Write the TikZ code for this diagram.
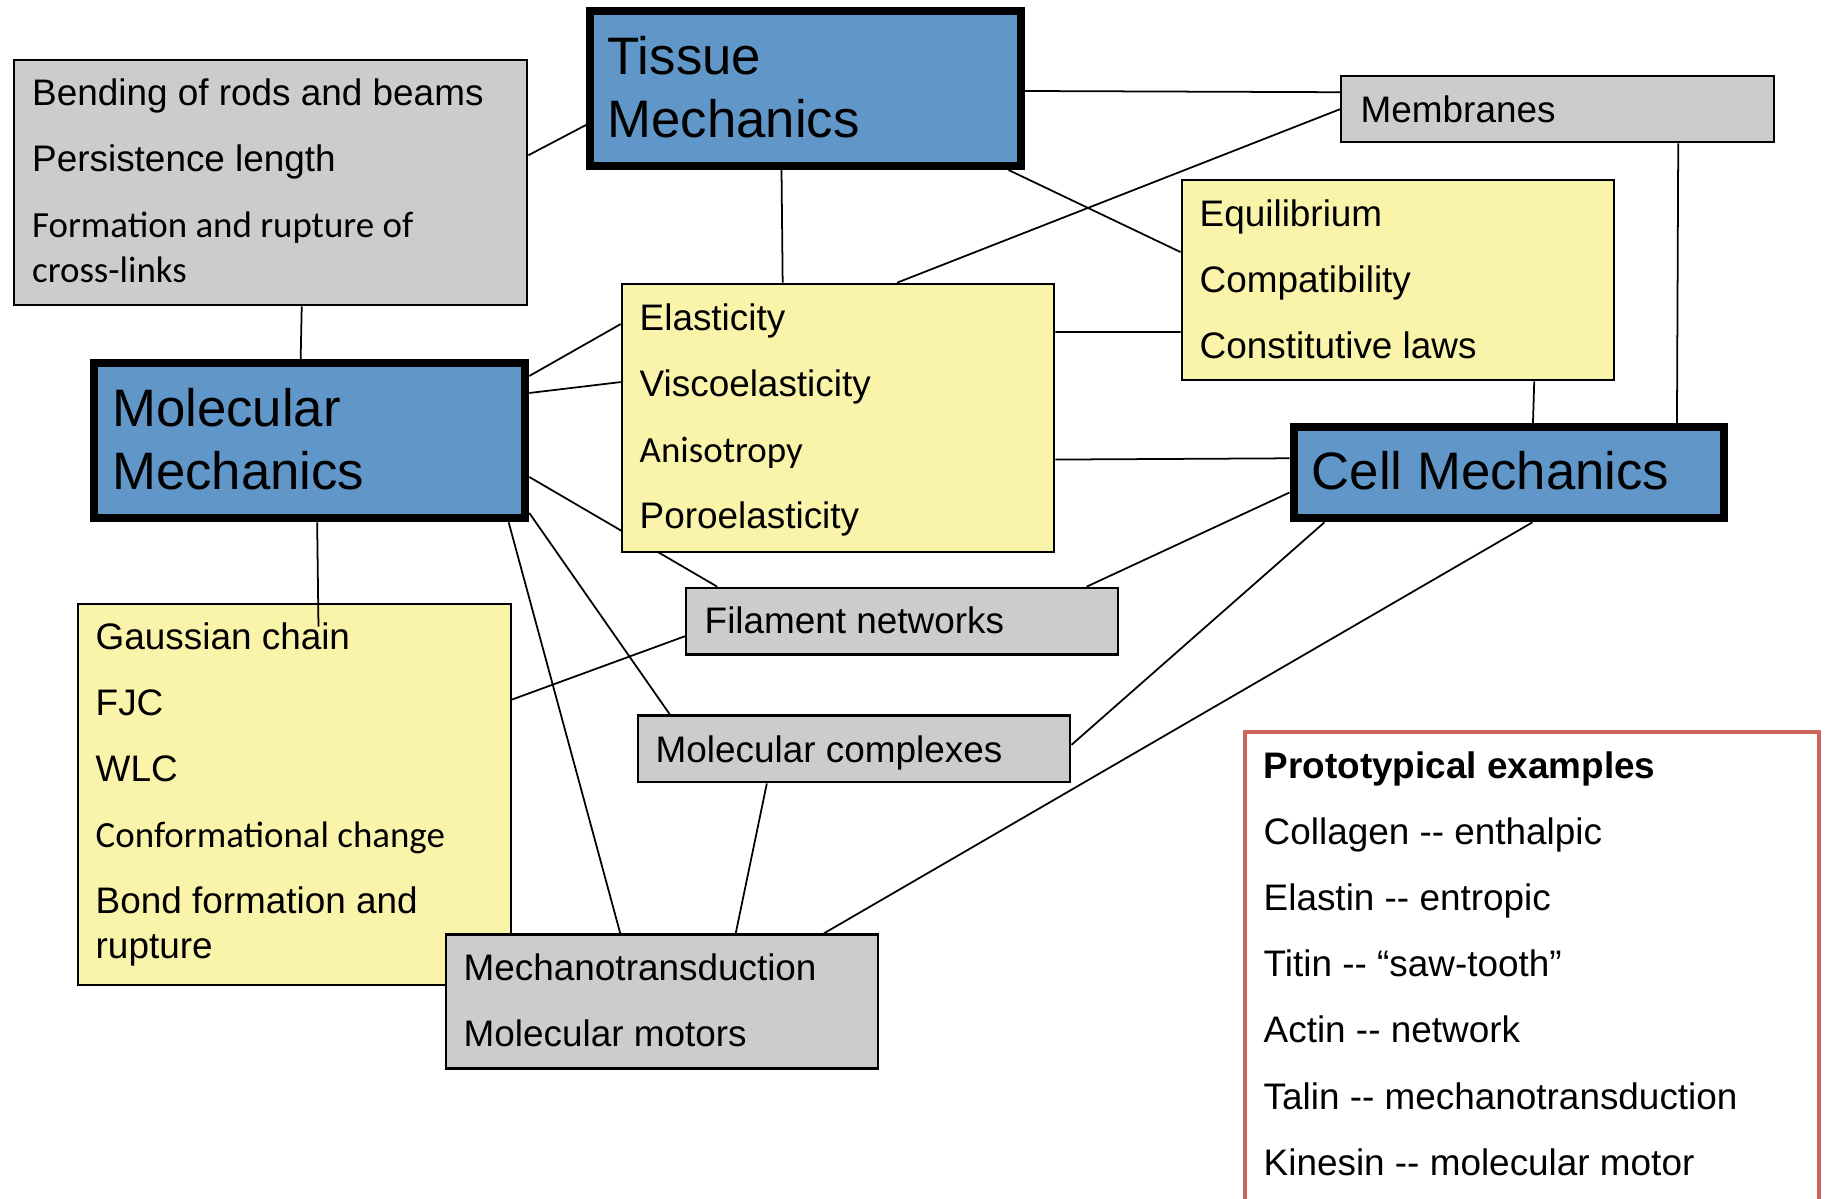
\documentclass[tikz,border=0pt]{standalone}
\usepackage{fontspec}
\setmainfont{Liberation Sans}
\newfontfamily\calfont{Carlito}
\usetikzlibrary{calc,backgrounds}

\definecolor{mechblue}{RGB}{97,150,200}
\definecolor{noteyellow}{RGB}{250,244,170}
\definecolor{topicgray}{RGB}{204,204,204}
\definecolor{protored}{RGB}{205,100,95}

\newcommand{\txtsz}{\fontsize{10.5}{12.6}\selectfont}
\newcommand{\headsz}{\fontsize{15}{18}\selectfont}

\begin{document}
\begin{tikzpicture}[x=1cm, y=-1cm,
    box/.style={draw=black, line width=0.7pt, anchor=north west, inner sep=0pt},
    graybox/.style={box, fill=topicgray},
    yellowbox/.style={box, fill=noteyellow},
    mechbox/.style={box, fill=mechblue, line width=2.28pt},
    txt/.style={anchor=north west, inner sep=0pt, align=left, font=\txtsz},
    headtxt/.style={txt, font=\headsz},
    conn/.style={line width=0.5pt}]
  \useasboundingbox (0,0) rectangle (18.30,11.99);
  \clip (0,0) rectangle (18.30,11.99);

  % boxes and their texts
  \node[graybox, minimum width=5.13cm, minimum height=2.45cm] (bend) at (0.13,0.59) {};
  \node[txt] (bendtxt) at (0.315,0.74) {\strut Bending of rods and beams\\[6.2pt]
    Persistence length\\[6.2pt] {\calfont Formation and rupture of}\\ {\calfont cross-links}};

  \node[mechbox, minimum width=4.31cm, minimum height=1.55cm] (tissue) at (5.86,0.07) {};
  \node[headtxt] (tissuetxt) at (6.07,0.297) {\strut Tissue\\Mechanics};

  \node[graybox, minimum width=4.33cm, minimum height=0.66cm] (membr) at (13.40,0.75) {};
  \node[txt] (membrtxt) at (13.60,0.91) {\strut Membranes};

  \node[yellowbox, minimum width=4.325cm, minimum height=2.003cm] (equil) at (11.805,1.787) {};
  \node[txt] (equiltxt) at (11.99,1.947) {\strut Equilibrium\\[6.2pt] Compatibility\\[6.2pt] Constitutive laws};

  \node[yellowbox, minimum width=4.323cm, minimum height=2.683cm] (elast) at (6.207,2.827) {};
  \node[txt] (elasttxt) at (6.39,2.99) {\strut Elasticity\\[6.2pt] Viscoelasticity\\[6.2pt]
    {\calfont Anisotropy}\\[6.2pt] Poroelasticity};

  \node[mechbox, minimum width=4.313cm, minimum height=1.55cm] (molec) at (0.90,3.593) {};
  \node[headtxt] (molectxt) at (1.116,3.817) {\strut Molecular\\Mechanics};

  \node[mechbox, minimum width=4.309cm, minimum height=0.91cm] (cell) at (12.895,4.233) {};
  \node[headtxt] (celltxt) at (13.11,4.447) {\strut Cell Mechanics};

  \node[graybox, minimum width=4.32cm, minimum height=0.666cm] (filam) at (6.85,5.867) {};
  \node[txt] (filamtxt) at (7.04,6.02) {\strut Filament networks};

  \node[yellowbox, minimum width=4.325cm, minimum height=3.813cm] (gauss) at (0.77,6.027) {};
  \node[txt] (gausstxt) at (0.95,6.18) {\strut Gaussian chain\\[6.2pt] FJC\\[6.2pt] WLC\\[6.2pt]
    {\calfont Conformational change}\\[6.2pt] Bond formation and\\ rupture};

  \node[graybox, minimum width=4.32cm, minimum height=0.667cm] (compl) at (6.37,7.143) {};
  \node[txt] (compltxt) at (6.55,7.307) {\strut Molecular complexes};

  \node[graybox, minimum width=4.324cm, minimum height=1.34cm] (mecha) at (4.446,9.333) {};
  \node[txt] (mechatxt) at (4.63,9.49) {\strut Mechanotransduction\\[6.2pt] Molecular motors};

  \node[draw=protored, line width=1.1pt, anchor=north west, inner sep=0pt,
        minimum width=5.739cm, minimum height=5cm] (proto) at (12.434,7.30) {};
  \node[txt] (prototxt) at (12.63,7.47) {\strut\textbf{Prototypical examples}\\[6.2pt]
    Collagen -{}- enthalpic\\[6.2pt] Elastin -{}- entropic\\[6.2pt]
    Titin -{}- “saw-tooth”\\[6.2pt] Actin -{}- network\\[6.2pt]
    Talin -{}- mechanotransduction\\[6.2pt] Kinesin -{}- molecular motor};

  % connectors, behind the boxes
  \begin{scope}[on background layer]
    \fill[white] (0,0) rectangle (18.30,11.99);
    \draw[conn] ($(bend.east)+(0,-0.275)$) -- ($(tissue.west)+(0,0.365)$);
    \draw[conn] ($(bend.south)+(0.31,0)$) -- ($(molec.north)+(-0.09,0)$);
    \draw[conn] ($(tissue.south)+(-0.24,0)$) -- ($(elast.north)+(-0.554,0)$);
    \draw[conn] ($(tissue.east)+(0,0.025)$) -- ($(membr.west)+(0,-0.17)$);
    \draw[conn] ($(tissue.south east)+(-0.165,0)$) -- ($(equil.west)+(0,-0.28)$);
    \draw[conn] (membr.west) -- ($(elast.north)+(0.59,0)$);
    \draw[conn] ($(elast.east)+(0,-0.86)$) -- ($(equil.west)+(0,0.52)$);
    \draw[conn] ($(equil.south)+(1.3625,0)$) -- ($(cell.north)+(0.24,0)$);
    \draw[conn] ($(membr.south)+(1.205,0)$) -- ($(cell.north)+(1.68,0)$);
    \draw[conn] ($(elast.east)+(0,0.415)$) -- ($(cell.west)+(0,-0.145)$);
    \draw[conn] ($(molec.east)+(0,-0.648)$) -- ($(elast.west)+(0,-0.94)$);
    \draw[conn] ($(molec.east)+(0,-0.478)$) -- ($(elast.west)+(0,-0.36)$);
    \draw[conn] ($(molec.east)+(0,0.362)$) -- ($(filam.north)+(-1.85,0)$);
    \draw[conn] ($(molec.south)+(1.99,0)$) -- ($(mecha.north)+(-0.418,0)$);
    \draw[conn] ($(molec.east)+(0,0.722)$) -- ($(compl.north)+(-1.845,0)$);
    \draw[conn] ($(filam.west)+(0,0.15)$) -- ($(gauss.east)+(0,-0.95)$);
    \draw[conn] ($(cell.west)+(0,0.197)$) -- ($(filam.north)+(1.844,0)$);
    \draw[conn] ($(cell.south)+(-1.845,0)$) -- ($(compl.east)+(0,-0.04)$);
    \draw[conn] ($(cell.south)+(0.235,0)$) -- ($(mecha.north)+(1.62,0)$);
    \draw[conn] ($(compl.south)+(-0.874,0)$) -- ($(mecha.north)+(0.737,0)$);
  \end{scope}

  % this one runs over the yellow box
  \draw[conn] ($(molec.south)+(0.075,0)$) -- ($(gauss.north)+(0.24,0.24)$);
\end{tikzpicture}
\end{document}
